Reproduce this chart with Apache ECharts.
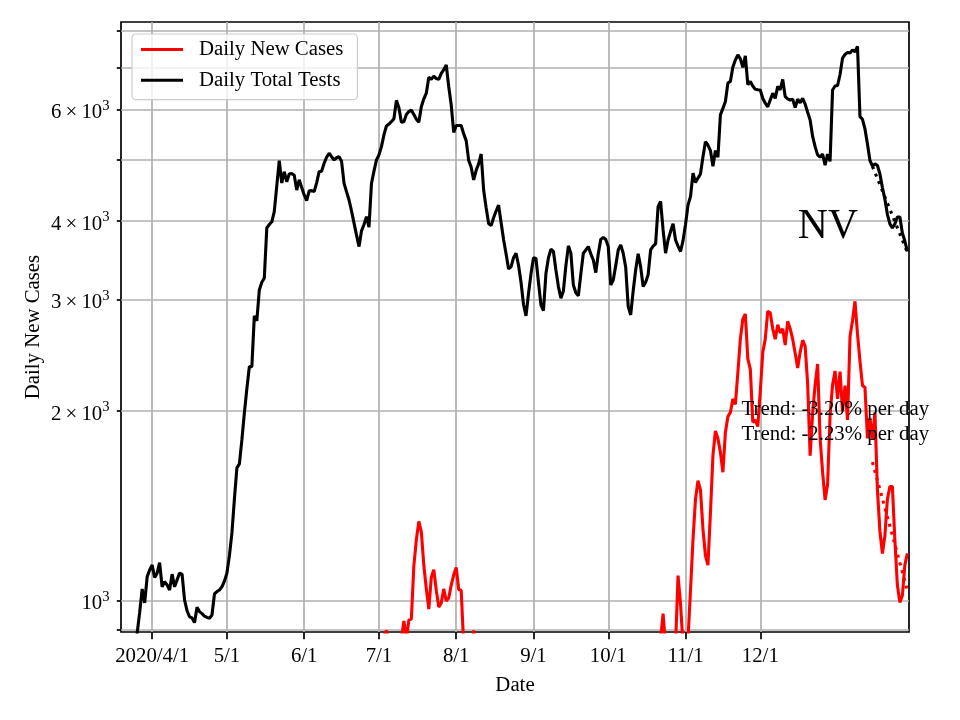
<!DOCTYPE html>
<html>
<head>
<meta charset="utf-8">
<script src="https://cdn.jsdelivr.net/npm/echarts@6/dist/echarts.min.js"></script>
<style>
html, body { margin: 0; padding: 0; background: #fff; }
#chart { width: 960px; height: 720px; }
</style>
</head>
<body>
<div id="chart"></div>
<script>
// daily total tests (7-day avg), one value per day starting 2020-03-25
var testsStart = [2020, 2, 25];
var testsValues = [
  // Mar 25-31
  820, 890, 960, 1045, 993, 1093, 1120,
  // Apr
  1140, 1090, 1107, 1150, 1053, 1073, 1060, 1041, 1103, 1053,
  1080, 1107, 1103, 1004, 965, 944, 940, 924, 977, 962,
  955, 946, 942, 939, 950, 1026, 1035, 1041, 1053, 1075,
  // May
  1107, 1180, 1282, 1450, 1625, 1649, 1800, 1986, 2170, 2352,
  2352, 2830, 2780, 3111, 3200, 3250, 3903, 3950, 3990, 4140,
  4550, 4988, 4597, 4790, 4618, 4750, 4760, 4730, 4480, 4650, 4520,
  // Jun
  4400, 4310, 4466, 4470, 4455, 4600, 4790, 4800, 4940, 5050,
  5125, 5060, 5000, 5040, 5060, 4975, 4590, 4450, 4320, 4150,
  3970, 3800, 3645, 3860, 3950, 4065, 3913, 4590, 4800, 5000,
  // Jul
  5093, 5250, 5478, 5660, 5700, 5750, 5810, 6215, 6050, 5740,
  5750, 5900, 5965, 5996, 5900, 5800, 5740, 6070, 6250, 6380,
  6760, 6710, 6790, 6730, 6710, 6860, 6950, 7070, 6530, 6110, 5530,
  // Aug
  5670, 5670, 5670, 5500, 5366, 4992, 4870, 4650, 4815, 4930,
  5110, 4481, 4200, 3965, 3935, 4050, 4150, 4240, 3980, 3740,
  3550, 3360, 3385, 3500, 3558, 3405, 3200, 2950, 2830, 3070, 3300,
  // Sep
  3500, 3490, 3200, 2945, 2885, 3305, 3500, 3610, 3580, 3346,
  3150, 3020, 3100, 3400, 3655, 3558, 3168, 3080, 3045, 3300,
  3558, 3600, 3645, 3550, 3471, 3315, 3550, 3742, 3770, 3740,
  // Oct
  3645, 3168, 3227, 3400, 3600, 3667, 3558, 3380, 2930, 2840,
  3100, 3346, 3550, 3385, 3150, 3200, 3290, 3600, 3650, 3680,
  4216, 4300, 3873, 3558, 3734, 3850, 3963, 3734, 3650, 3580, 3725,
  // Nov
  3950, 4240, 4375, 4765, 4605, 4680, 4750, 5060, 5345, 5280,
  5175, 4885, 5175, 5050, 5895, 6035, 6190, 6620, 6660, 7020,
  7200, 7335, 7230, 7010, 7310, 6580, 6660, 6550, 6470, 6460,
  // Dec
  6455, 6260, 6150, 6070, 6223, 6380, 6260, 6540, 6455, 6710,
  6300, 6250, 6223, 6240, 6055, 6240, 6160, 6260, 6130, 5950,
  5786, 5447, 5250, 5093, 5050, 5110, 4905, 5110, 4975, 6455, 6550,
  // Jan 2021
  6560, 6830, 7250, 7350, 7400, 7390, 7469, 7420, 7570, 5855,
  5800, 5600, 5300, 4990, 4890, 4930, 4900, 4750, 4520, 4330,
  4100, 3960, 3900, 3960, 4060, 4060, 3830, 3720, 3580
];

// daily new cases, summer wave from 2020-07-01
var casesSummerStart = [2020, 6, 1];
var casesSummer = [
  700, 820, 880, 898, 860, 780, 760, 820, 850, 870,
  930, 870, 933, 936, 1137, 1250, 1337, 1287, 1140, 1045,
  971, 1090, 1121, 1040, 978, 993, 1045, 1000, 1011, 1060, 1100,
  1130, 1043, 1039, 850, 760, 740, 820, 898, 830, 760
];
// winter wave from 2020-10-19
var casesWinterStart = [2020, 9, 19];
var casesWinter = [
  780, 820, 840, 870, 955, 850, 800, 780, 800, 850, 1097, 990, 850,
  // Nov
  800, 870, 1040, 1250, 1450, 1551, 1500, 1300, 1180, 1140,
  1380, 1700, 1860, 1810, 1720, 1600, 1850, 1960, 1990, 2090,
  2050, 2300, 2600, 2800, 2850, 2420, 2330, 1920, 1936, 1890,
  // Dec
  2150, 2480, 2600, 2880, 2860, 2700, 2600, 2740, 2660, 2700,
  2545, 2775, 2700, 2600, 2470, 2340, 2480, 2590, 2535, 2210,
  1700, 1985, 2200, 2375, 1810, 1600, 1446, 1530, 1970, 2200, 2315,
  // Jan 2021
  2090, 2310, 2000, 2195, 1936, 2625, 2780, 2985, 2650, 2400,
  2195, 2180, 1810, 1950, 1800, 1990, 1500, 1290, 1189, 1270,
  1450, 1518, 1518, 1250, 1060, 995, 1020, 1140, 1190
];

// fitted trends over the last two weeks
var trendDays = ['2021-01-15', '2021-01-29'];
var trendCases = [1660, 1040];
var trendTests = [4885, 3570];

var monthTicks = ['2020-04-01', '2020-05-01', '2020-06-01', '2020-07-01', '2020-08-01',
  '2020-09-01', '2020-10-01', '2020-11-01', '2020-12-01'];
var yGridValues = [900, 1000, 2000, 3000, 4000, 5000, 6000, 7000, 8000];
var yLabelValues = [1000, 2000, 3000, 4000, 6000];

var FONT = '"Liberation Serif", "Times New Roman", serif';

function toTime(s) {
  var p = s.split('-');
  return new Date(+p[0], +p[1] - 1, +p[2]).getTime();
}
function daily(start, values) {
  return values.map(function (v, i) {
    return [new Date(start[0], start[1], start[2] + i).getTime(), v];
  });
}

var casesData = daily(casesSummerStart, casesSummer)
  .concat([[new Date(2020, 8, 15).getTime(), '-']])
  .concat(daily(casesWinterStart, casesWinter));
var testsData = daily(testsStart, testsValues);

var chart = echarts.init(document.getElementById('chart'), null, { renderer: 'canvas' });

var option = {
  animation: false,
  backgroundColor: '#fff',
  textStyle: { fontFamily: FONT },
  grid: {
    left: 121, right: 51, top: 22, bottom: 88,
    show: true, borderColor: '#000', borderWidth: 1.7, backgroundColor: 'transparent'
  },
  legend: {
    left: 132, top: 34,
    orient: 'vertical',
    data: ['Daily New Cases', 'Daily Total Tests'],
    icon: 'rect',
    itemWidth: 42, itemHeight: 3,
    itemGap: 9.7,
    padding: [5, 14, 9, 9],
    backgroundColor: 'rgba(255,255,255,0.8)',
    borderColor: '#cccccc', borderWidth: 1.2, borderRadius: 4,
    textStyle: { fontFamily: FONT, fontSize: 20.8, color: '#000', lineHeight: 21, padding: [0, 0, 0, 11] }
  },
  xAxis: {
    // dates kept as timestamps on a plain value scale so the month ticks can be placed exactly
    type: 'value',
    min: new Date(2020, 2, 19, 12).getTime(),
    max: new Date(2021, 0, 29, 16).getTime(),
    name: 'Date', nameLocation: 'middle', nameGap: 43, nameMoveOverlap: false,
    nameTextStyle: { fontFamily: FONT, fontSize: 20.8, color: '#000' },
    axisLine: { show: false },
    axisTick: { show: true, length: 7.3, lineStyle: { color: '#000', width: 1.7 }, customValues: monthTicks.map(toTime) },
    axisLabel: {
      customValues: monthTicks.map(toTime),
      margin: 14,
      fontFamily: FONT, fontSize: 20.8, color: '#000',
      formatter: function (v) {
        var d = new Date(v);
        var s = (d.getMonth() + 1) + '/' + d.getDate();
        return d.getMonth() === 3 ? d.getFullYear() + '/' + s : s;
      }
    },
    splitLine: { show: true, lineStyle: { color: '#b0b0b0', width: 1.7 } }
  },
  yAxis: {
    type: 'log', logBase: 10,
    min: 893, max: 8272,
    name: 'Daily New Cases', nameLocation: 'middle', nameGap: 77, nameMoveOverlap: false,
    nameTextStyle: { fontFamily: FONT, fontSize: 20.8, color: '#000' },
    axisLine: { show: false },
    axisTick: { show: true, length: 4.2, lineStyle: { color: '#000', width: 1.7 }, customValues: yGridValues },
    axisLabel: {
      customValues: yLabelValues,
      margin: 11.5,
      padding: [6, 0, 0, 0],
      color: '#000',
      formatter: function (v) {
        var m = Math.round(v / 1000);
        return m === 1 ? '{b|10}{s|3}' : '{b|' + m + '\u2009\u00d7\u200910}{s|3}';
      },
      rich: {
        b: { fontFamily: FONT, fontSize: 20.8, lineHeight: 28, color: '#000' },
        s: { fontFamily: FONT, fontSize: 14.6, lineHeight: 15, color: '#000', verticalAlign: 'top' }
      }
    },
    splitLine: { show: true, lineStyle: { color: '#b0b0b0', width: 1.7 } }
  },
  series: [
    {
      name: 'Daily New Cases', type: 'line', data: casesData,
      showSymbol: false, clip: true, color: '#ff0000',
      lineStyle: { color: '#ff0000', width: 3.1 }
    },
    {
      name: 'Daily Total Tests', type: 'line', data: testsData,
      showSymbol: false, clip: true, color: '#000000',
      lineStyle: { color: '#000000', width: 3.1 }
    },
    {
      name: 'cases trend', type: 'line',
      data: trendDays.map(function (d, i) { return [toTime(d), trendCases[i]]; }),
      showSymbol: false, clip: true, color: '#ff0000',
      lineStyle: { color: '#ff0000', width: 3.1, type: [3, 5] }
    },
    {
      name: 'tests trend', type: 'line',
      data: trendDays.map(function (d, i) { return [toTime(d), trendTests[i]]; }),
      showSymbol: false, clip: true, color: '#000000',
      lineStyle: { color: '#000000', width: 3.1, type: [3, 5] }
    }
  ],
  graphic: [
    { type: 'text', z: 100, style: { x: 797.8, y: 227, text: 'NV', font: '41.7px ' + FONT, fill: '#000', textAlign: 'left', textVerticalAlign: 'middle' } },
    { type: 'text', z: 100, style: { x: 741.5, y: 410, text: 'Trend: -3.20% per day', font: '20.8px ' + FONT, fill: '#000', textAlign: 'left', textVerticalAlign: 'middle' } },
    { type: 'text', z: 100, style: { x: 741.5, y: 435, text: 'Trend: -2.23% per day', font: '20.8px ' + FONT, fill: '#000', textAlign: 'left', textVerticalAlign: 'middle' } }
  ]
};

chart.setOption(option);
</script>
</body>
</html>
